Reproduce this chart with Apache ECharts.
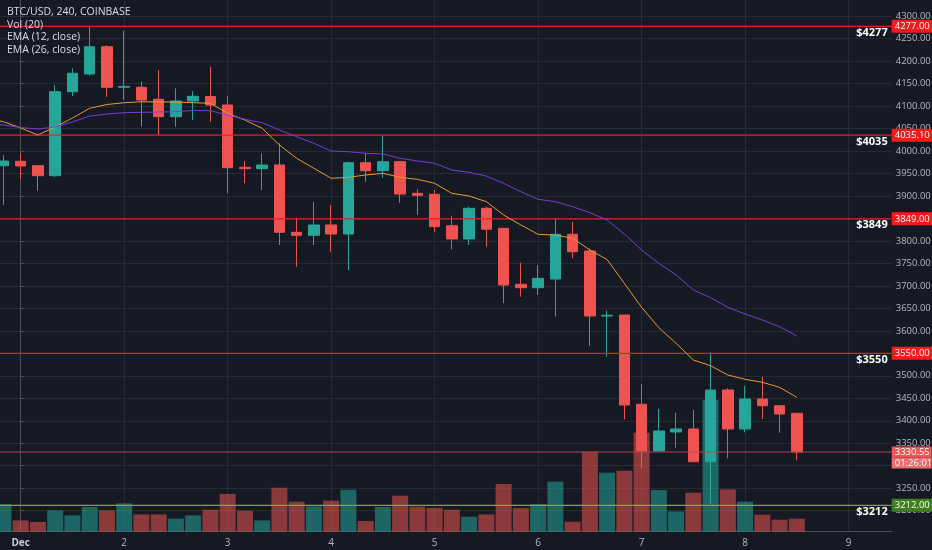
<!DOCTYPE html>
<html>
<head>
<meta charset="utf-8">
<script src="https://cdn.jsdelivr.net/npm/echarts@6/dist/echarts.min.js"></script>
<style>
html,body{margin:0;padding:0;background:#151924;}
#c{width:932px;height:550px;}
</style>
</head>
<body>
<div id="c"></div>
<script>
// ---- data (4h candles, BTC/USD Coinbase) ----
const times = [
  '2018-11-30 16:00','2018-11-30 20:00',
  '2018-12-01 00:00','2018-12-01 04:00','2018-12-01 08:00','2018-12-01 12:00','2018-12-01 16:00','2018-12-01 20:00',
  '2018-12-02 00:00','2018-12-02 04:00','2018-12-02 08:00','2018-12-02 12:00','2018-12-02 16:00','2018-12-02 20:00',
  '2018-12-03 00:00','2018-12-03 04:00','2018-12-03 08:00','2018-12-03 12:00','2018-12-03 16:00','2018-12-03 20:00',
  '2018-12-04 00:00','2018-12-04 04:00','2018-12-04 08:00','2018-12-04 12:00','2018-12-04 16:00','2018-12-04 20:00',
  '2018-12-05 00:00','2018-12-05 04:00','2018-12-05 08:00','2018-12-05 12:00','2018-12-05 16:00','2018-12-05 20:00',
  '2018-12-06 00:00','2018-12-06 04:00','2018-12-06 08:00','2018-12-06 12:00','2018-12-06 16:00','2018-12-06 20:00',
  '2018-12-07 00:00','2018-12-07 04:00','2018-12-07 08:00','2018-12-07 12:00','2018-12-07 16:00','2018-12-07 20:00',
  '2018-12-08 00:00','2018-12-08 04:00','2018-12-08 08:00','2018-12-08 12:00'
];
const opens = [
  3968.0,3967.1,
  3976.9,3967.1,3944.9,4131.7,4171.0,4231.7,
  4141.5,4141.5,4114.8,4076.1,4111.0,4121.0,
  4102.1,3963.6,3960.5,3968.7,3819.0,3812.4,
  3835.3,3815.3,3973.8,3956.0,3976.0,3905.7,
  3903.5,3833.7,3804.2,3872.4,3827.9,3703.4,
  3695.8,3715.2,3814.6,3777.5,3632.9,3635.1,
  3436.6,3332.8,3375.0,3381.7,3308.9,3468.4,
  3381.7,3448.4,3433.5,3416.6
];
const closes = [
  3975.0,3977.6,
  3966.5,3944.9,4131.7,4172.6,4231.7,4141.5,
  4143.5,4113.2,4076.1,4111.0,4121.5,4102.1,
  3962.7,3960.5,3968.7,3819.0,3812.4,3835.3,
  3815.3,3973.8,3956.0,3976.0,3904.2,3901.3,
  3831.5,3804.2,3872.4,3825.7,3701.8,3695.8,
  3716.7,3814.6,3775.9,3632.9,3634.5,3435.0,
  3332.8,3377.2,3381.7,3308.9,3468.4,3381.7,
  3448.4,3433.5,3415.0,3330.55
];
const lows = [
  3945.0,3879.7,
  3937.6,3911.5,3942.0,4122.1,4168.0,4120.5,
  4113.2,4053.9,4035.4,4053.9,4068.7,4064.9,
  3905.8,3928.0,3913.1,3790.8,3742.6,3790.8,
  3775.9,3735.2,3931.5,3940.4,3884.9,3857.5,
  3820.4,3781.2,3790.8,3787.0,3661.2,3675.8,
  3679.6,3631.4,3761.2,3566.2,3542.4,3403.2,
  3294.3,3332.0,3340.1,3308.5,3216.0,3316.5,
  3374.3,3403.9,3373.4,3312.7
];
const highs = [
  3992.0,3990.9,
  3994.7,3968.0,4146.6,4183.7,4277.0,4235.5,
  4267.3,4153.9,4179.9,4139.2,4133.0,4187.3,
  4121.5,3977.6,3994.7,4016.9,3851.5,3886.4,
  3879.7,3976.0,3994.7,4033.8,3976.5,3914.7,
  3913.1,3855.3,3876.0,3876.0,3828.5,3751.4,
  3746.3,3850.2,3842.6,3783.5,3644.7,3635.5,
  3481.7,3426.3,3417.9,3423.9,3552.2,3472.2,
  3477.3,3497.9,3434.0,3417.0
];
const volumes = [
  800,1108,
  452,388,852,652,988,852,
  1132,692,692,520,652,880,
  1508,840,452,1760,1200,1012,
  1240,1680,428,988,1440,1000,
  948,880,600,692,1908,948,
  1108,2000,400,3200,2360,2440,
  3960,1668,812,1560,5280,1692,
  1200,680,480,520
];
const ema12 = [
  4073.2,4065.0,
  4051.0,4035.4,4053.2,4073.2,4094.8,4103.2,
  4107.2,4109.4,4108.8,4108.8,4107.2,4105.9,
  4083.6,4068.7,4050.3,4013.2,3983.6,3961.4,
  3939.1,3941.3,3946.5,3950.2,3941.3,3936.9,
  3928.0,3905.7,3899.8,3887.1,3857.5,3835.3,
  3814.6,3813.0,3805.7,3779.7,3758.5,3705.6,
  3652.3,3606.9,3572.2,3535.1,3522.4,3501.7,
  3492.2,3485.5,3474.4,3452.1
];
const ema26 = [
  4059.9,4057.6,
  4052.1,4048.7,4053.2,4064.3,4077.6,4082.1,
  4085.0,4085.9,4086.5,4087.2,4089.9,4089.4,
  4079.9,4070.3,4062.7,4046.5,4031.6,4016.9,
  3999.8,3998.3,3994.7,3993.2,3983.6,3977.6,
  3972.5,3957.6,3952.5,3944.2,3928.0,3909.3,
  3892.4,3887.1,3876.0,3862.6,3846.4,3815.3,
  3779.7,3750.1,3724.1,3690.7,3673.6,3652.3,
  3637.4,3624.0,3609.1,3588.5
];
const resistanceLevels = [4277, 4035.1, 3849, 3550];
const resistanceTexts = ['$4277', '$4035', '$3849', '$3550'];
const supportLevel = 3212;
const supportText = '$3212';
const lastPrice = 3330.55;
const countdown = '01:26:01';
const priceTicks = [3200,3250,3300,3350,3400,3450,3500,3550,3600,3650,3700,3750,3800,3850,3900,3950,4000,4050,4100,4150,4200,4250,4300];
const dayTicksTimes = ['2018-12-01 00:00','2018-12-02 00:00','2018-12-03 00:00','2018-12-04 00:00','2018-12-05 00:00','2018-12-06 00:00','2018-12-07 00:00','2018-12-08 00:00','2018-12-09 00:00'];
const dayLabels = ['Dec','2','3','4','5','6','7','8','9'];
const legendLines = ['BTC/USD, 240, COINBASE', 'Vol (20)', 'EMA (12, close)', 'EMA (26, close)'];

// ---- build ----
const T0 = Date.parse('2018-12-01T00:00:00Z');
const toHours = s => (Date.parse(s.replace(' ', 'T') + ':00Z') - T0) / 3600000;
const hours = times.map(toHours);
const dayTicks = dayTicksTimes.map(toHours);
const X_MIN = -4.8, X_MAX = 202;

const UP = '#26a69a', DOWN = '#ef5350';
const VOL_UP = 'rgba(38,166,154,0.55)', VOL_DOWN = 'rgba(239,83,80,0.55)';
const LEVEL_RED = '#f01c1c', BADGE_RED = '#f41b1b';
const SUPPORT_LINE = '#8aa52e', SUPPORT_BADGE = '#3f7f1f';
const LAST_LINE = '#b4464d';
const FONT = '"Open Sans", "DejaVu Sans", sans-serif';

const candleData = hours.map((h, i) => [h, opens[i], closes[i], lows[i], highs[i]]);
const volData = hours.map((h, i) => ({
  value: [h, volumes[i]],
  itemStyle: { color: closes[i] >= opens[i] ? VOL_UP : VOL_DOWN }
}));

const captionLabel = text => ({ show: true, position: 'insideEndBottom', formatter: text, color: '#ffffff',
  fontFamily: FONT, fontSize: 11, fontWeight: 'bold', distance: [4, 1] });
const badgeLabel = (v, bg) => ({ show: true, position: 'end', formatter: v.toFixed(2), color: '#ffffff',
  backgroundColor: bg, padding: [2, 3, 1, 3], fontFamily: FONT, fontSize: 9.5, distance: 0 });
const labelMarker = items => ({
  silent: true, symbol: ['none', 'none'], animation: false,
  lineStyle: { color: 'rgba(0,0,0,0)', width: 1 },
  data: items
});

const labelMarks = [];
resistanceLevels.forEach((v, i) => {
  labelMarks.push({ yAxis: v, label: captionLabel(resistanceTexts[i]) });
});
labelMarks.push({ yAxis: supportLevel, label: captionLabel(supportText) });
const badgeMarks = resistanceLevels.map(v => ({ yAxis: v, label: badgeLabel(v, BADGE_RED) }))
  .concat([{ yAxis: supportLevel, label: badgeLabel(supportLevel, SUPPORT_BADGE) }]);
const lastMarks = [{
  yAxis: lastPrice,
  label: {
    show: true, position: 'end', distance: 0,
    formatter: '{e| }\n{a|' + lastPrice.toFixed(2) + '}\n{b|' + countdown + '}',
    rich: {
      e: { fontSize: 9.5, lineHeight: 11, padding: [1, 3, 0, 3] },
      a: { color: '#fff', backgroundColor: '#ee5555', fontFamily: FONT, fontSize: 9.5, lineHeight: 11, width: 34, padding: [1, 3, 0, 3] },
      b: { color: '#fff', backgroundColor: '#f06b6b', fontFamily: FONT, fontSize: 9.5, lineHeight: 11, width: 34, padding: [1, 3, 0, 3] }
    }
  }
}];

// horizontal level lines drawn as plain line series across the axis range
const levelSeries = (v, color, name) => ({
  name: name, type: 'line', xAxisIndex: 0, yAxisIndex: 0, silent: true, z: 4,
  symbol: 'none', showSymbol: false, animation: false,
  lineStyle: { color: color, width: 1.2, type: 'solid' },
  data: [[X_MIN, v], [X_MAX, v]]
});

const series = [
  {
    name: 'Vol', type: 'bar', xAxisIndex: 0, yAxisIndex: 1, barWidth: 16, data: volData,
    silent: true, z: 1
  },
  {
    name: 'BTC/USD', type: 'candlestick', xAxisIndex: 0, yAxisIndex: 0, barWidth: 11,
    data: candleData, z: 3,
    itemStyle: { color: UP, color0: DOWN, borderColor: UP, borderColor0: DOWN, borderWidth: 1 },
    markLine: labelMarker(labelMarks)
  },
  {
    name: 'EMA12', type: 'line', xAxisIndex: 0, yAxisIndex: 0, showSymbol: false, symbol: 'none', z: 5,
    data: hours.map((h, i) => [h, ema12[i]]), lineStyle: { color: '#f09a2c', width: 1 },
    markLine: labelMarker(badgeMarks)
  },
  {
    name: 'EMA26', type: 'line', xAxisIndex: 0, yAxisIndex: 0, showSymbol: false, symbol: 'none', z: 5,
    data: hours.map((h, i) => [h, ema26[i]]), lineStyle: { color: '#7a3ddb', width: 1 },
    markLine: labelMarker(lastMarks)
  }
];
resistanceLevels.forEach((v, i) => series.push(levelSeries(v, LEVEL_RED, 'R' + i)));
series.push(levelSeries(supportLevel, SUPPORT_LINE, 'S'));
series.push(levelSeries(lastPrice, LAST_LINE, 'Last'));

const chart = echarts.init(document.getElementById('c'));
chart.setOption({
  backgroundColor: '#151924',
  animation: false,
  textStyle: { fontFamily: FONT },
  graphic: legendLines.map((t, i) => ({
    type: 'text', left: 7, top: 7 + i * 12.5, z: 100,
    style: { text: t, fill: '#dcdfe6', font: '10.5px ' + FONT }
  })),
  grid: { left: 0, right: 40.3, top: 0, bottom: 18.3, outerBoundsMode: 'none', containLabel: false },
  xAxis: {
    type: 'value', min: X_MIN, max: X_MAX,
    axisLine: { show: true, lineStyle: { color: '#4c505b', width: 1 } },
    axisTick: { show: false, customValues: dayTicks },
    splitLine: { show: true, lineStyle: { color: '#252a36', width: 1 } },
    axisLabel: {
      customValues: dayTicks, color: '#b7bac2', fontSize: 10, margin: 6, fontFamily: FONT,
      formatter: v => {
        const i = dayTicks.indexOf(Math.round(v));
        if (i < 0) return '';
        return i === 0 ? '{b|' + dayLabels[0] + '}' : dayLabels[i];
      },
      rich: { b: { fontWeight: 'bold', color: '#c7cad2', fontSize: 10, fontFamily: FONT } }
    }
  },
  yAxis: [
    {
      type: 'value', position: 'right', min: 3153.3, max: 4335.6, scale: true,
      axisLine: { show: true, lineStyle: { color: '#4c505b', width: 1 } },
      axisTick: { show: true, length: 3, customValues: priceTicks, lineStyle: { color: '#4c505b' } },
      splitLine: { show: true, lineStyle: { color: '#252a36', width: 1 } },
      axisLabel: { customValues: priceTicks, color: '#b7bac2', fontSize: 9.5, margin: 4, fontFamily: FONT,
                   formatter: v => v.toFixed(2) }
    },
    { type: 'value', min: 0, max: 21268, show: false, splitLine: { show: false } }
  ],
  series: series
});
</script>
</body>
</html>
